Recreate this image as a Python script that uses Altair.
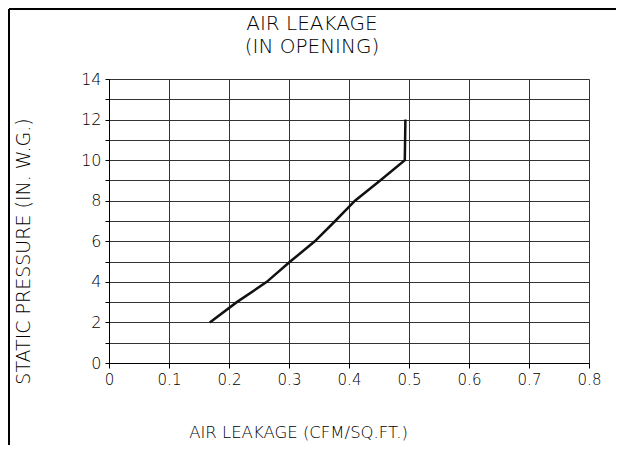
import altair as alt
import pandas as pd

# data
leakage = [0.168, 0.213, 0.263, 0.302, 0.343, 0.377, 0.410, 0.452, 0.493, 0.494]
pressure = [2, 3, 4, 5, 6, 7, 8, 9, 10, 12]
x_ticks = [0, 0.1, 0.2, 0.3, 0.4, 0.5, 0.6, 0.7, 0.8]
y_ticks = list(range(0, 15))

title_lines = ["AIR LEAKAGE", "(IN OPENING)"]
x_title = "AIR LEAKAGE (CFM/SQ.FT.)"
y_title = "STATIC PRESSURE (IN. W.G.)"

FONT = "DejaVu Sans"
FW = 200
W, H = 480, 284

df = pd.DataFrame({"x": leakage, "y": pressure, "i": list(range(len(leakage)))})

x_axis = alt.Axis(
    values=x_ticks, format="~g", title=x_title, grid=True,
    gridColor="#333", gridWidth=1, gridOpacity=1,
    domainColor="#000", tickColor="#000", tickSize=5,
    labelFont=FONT, labelFontSize=15, labelFontWeight=FW, labelColor="#000", labelPadding=4,
    labelFlush=False, labelOverlap=False,
    titleFont=FONT, titleFontSize=16.5, titleFontWeight=FW, titleColor="#000",
    titleX=189, titleY=69, titleAnchor="middle", titleBaseline="middle",
)
y_axis = alt.Axis(
    values=y_ticks, labelExpr="datum.value % 2 == 0 ? datum.label : ''",
    title=y_title, grid=True,
    gridColor="#333", gridWidth=1, gridOpacity=1,
    domainColor="#000", tickColor="#000", tickSize=4,
    labelFont=FONT, labelFontSize=16, labelFontWeight=FW, labelColor="#000", labelPadding=4,
    labelOverlap=False,
    titleFont=FONT, titleFontSize=19, titleFontWeight=FW, titleColor="#000",
    titleX=-86, titleY=172, titleAnchor="middle", titleBaseline="middle", titleAngle=270,
)

line = alt.Chart(df).mark_line(color="#111", strokeWidth=2.5, strokeJoin="miter").encode(
    x=alt.X("x:Q", scale=alt.Scale(domain=[0, 0.8], nice=False, zero=False), axis=x_axis),
    y=alt.Y("y:Q", scale=alt.Scale(domain=[0, 14], nice=False), axis=y_axis),
    order="i:O",
)

title1 = alt.Chart(pd.DataFrame({"t": [title_lines[0]]})).mark_text(
    font=FONT, fontSize=20, fontWeight=FW, color="#000", align="center", baseline="alphabetic"
).encode(text="t:N", x=alt.value(203), y=alt.value(-49))
title2 = alt.Chart(pd.DataFrame({"t": [title_lines[1]]})).mark_text(
    font=FONT, fontSize=20, fontWeight=FW, color="#000", align="center", baseline="alphabetic"
).encode(text="t:N", x=alt.value(203), y=alt.value(-26))

frame_df = pd.DataFrame({"k": [0]})
top_rule = alt.Chart(frame_df).mark_rule(color="#000", strokeWidth=2).encode(
    x=alt.value(-100), x2=alt.value(507), y=alt.value(-70)
)
left_rule = alt.Chart(frame_df).mark_rule(color="#000", strokeWidth=2).encode(
    x=alt.value(-100), y=alt.value(-70), y2=alt.value(366)
)

chart = alt.layer(line, title1, title2, top_rule, left_rule).properties(
    width=W, height=H,
    autosize=alt.AutoSizeParams(type="none"),
    padding={"left": 101, "top": 71, "right": 27, "bottom": 82},
).configure_view(stroke=None)

chart.save("out.html", embed_options={"renderer": "svg", "actions": False})
